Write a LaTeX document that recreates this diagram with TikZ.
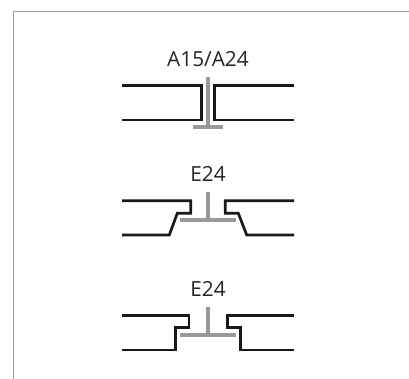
\documentclass[tikz,border=0pt]{standalone}
\usepackage{fontspec}
\setmainfont{Open Sans}
\tikzset{
  frameline/.style={draw=black!38,line width=1.1pt},
  panel/.style={draw=black!90,line width=2.7pt,miter limit=10},
  tee/.style={draw=black!40,line width=4pt},
  lab/.style={font=\fontsize{20.8}{24}\selectfont,text=black!85,inner sep=0pt,anchor=base}
}
\begin{document}
\begin{tikzpicture}[x=1pt,y=-1pt]
\useasboundingbox (0,0) rectangle (409,379);
\fill[white] (0,0) rectangle (409,379);
\draw[frameline] (13.3,379) -- (13.3,11.3) -- (409,11.3);
% A15/A24
\node[lab] (a) at (208,66.5) {A15/A24};
\draw[tee] (208,77) -- (208,126.7);
\draw[tee] (193,126.7) -- (223,126.7);
\draw[panel] (122,85.7) -- (201.3,85.7) -- (201.3,120) -- (122,120);
\draw[panel] (294,85.7) -- (214.7,85.7) -- (214.7,120) -- (294,120);
% E24
\node[lab] (b) at (208,181.7) {E24};
\draw[tee] (208,192.3) -- (208,220.3);
\draw[tee] (180,220.3) -- (236,220.3);
\draw[panel] (122,200.7) -- (190.7,200.7) -- (190.7,213.3) -- (177.3,213.3) -- (169.3,235) -- (122,235);
\draw[panel] (294,200.7) -- (225.3,200.7) -- (225.3,213.3) -- (238.3,213.3) -- (246.7,235) -- (294,235);
% E24
\node[lab] (c) at (208,296.7) {E24};
\draw[tee] (208,306.7) -- (208,335);
\draw[tee] (180,335) -- (236,335);
\draw[panel] (122,315.3) -- (189,315.3) -- (189,327.3) -- (175.3,327.3) -- (175.3,350) -- (122,350);
\draw[panel] (294,315.3) -- (227.7,315.3) -- (227.7,327.3) -- (240.3,327.3) -- (240.3,350) -- (294,350);
\end{tikzpicture}
\end{document}
